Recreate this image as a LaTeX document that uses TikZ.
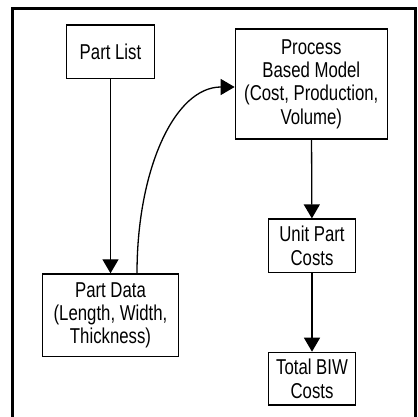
\documentclass[tikz,border=0pt]{standalone}
\usepackage{fontspec}
\setmainfont[FakeStretch=0.78]{Liberation Sans}
\usetikzlibrary{arrows.meta,calc}
\begin{document}
\begin{tikzpicture}[x=1pt,y=-1pt,
  box/.style={draw, line width=1.3pt, inner sep=0pt, align=center,
    font=\fontsize{21.5}{23.4}\selectfont},
  flow/.style={line width=1.3pt, -{Triangle[length=14pt,width=16pt]}}]
  \useasboundingbox (0,0) rectangle (417,417);
  \clip (0,0) rectangle (417,417);
  % outer frame
  \draw[line width=3pt] (12,9) rectangle (415.5,440);
  % boxes
  \node[box, minimum width=87.5pt, minimum height=53.3pt] (pl) at (110.5,51.7) {Part List};
  \node[box, minimum width=152pt, minimum height=110pt] (pm) at (311.3,84) {Process\\Based Model\\(Cost, Production,\\Volume)};
  \node[box, minimum width=136.4pt, minimum height=82.7pt] (pd) at (110.5,315.3) {Part Data\\(Length, Width,\\Thickness)};
  \node[box, minimum width=87.4pt, minimum height=53.3pt] (uc) at (312,245.7) {Unit Part\\Costs};
  \node[box, minimum width=87.4pt, minimum height=52.7pt] (tc) at (312,378.7) {Total BIW\\Costs};
  % connectors
  \draw[flow] (pl) -- (pd);
  \coordinate (cs) at ([xshift=26.5pt]pd.north);
  \coordinate (ce) at ([yshift=-3pt]pm.west);
  \draw[flow] (cs) .. controls +(0,-104) and +(-60,0) .. (ce);
  \draw[flow] (pm) -- (uc);
  \draw[flow] (uc) -- (tc);
\end{tikzpicture}
\end{document}
